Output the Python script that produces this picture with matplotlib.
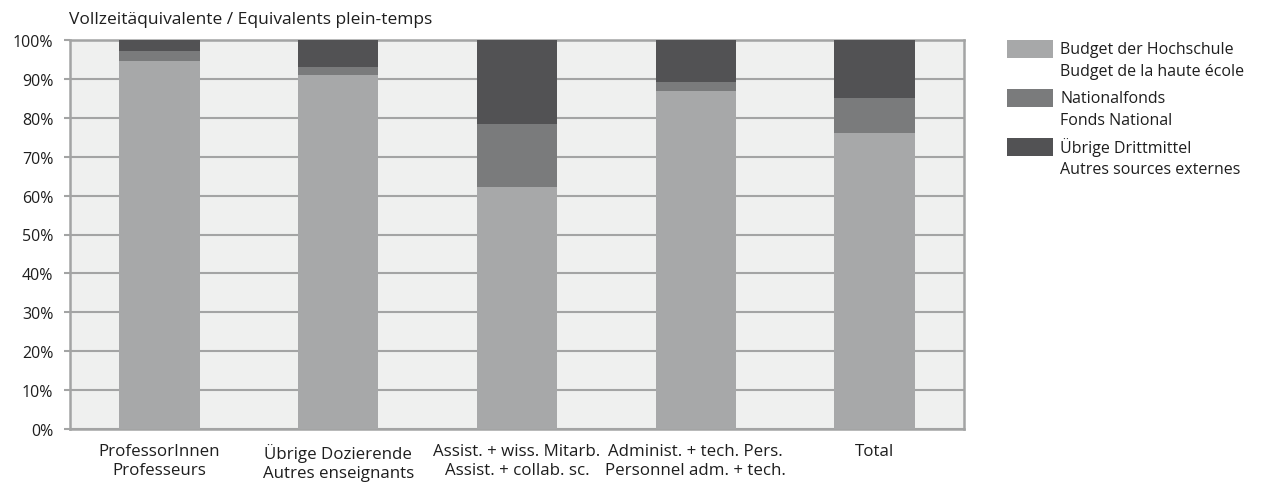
import matplotlib
matplotlib.use("Agg")
import matplotlib.pyplot as plt
from matplotlib.patches import Rectangle
import numpy as np

plt.rcParams['font.family'] = ['Open Sans', 'DejaVu Sans']

categories = ["ProfessorInnen\nProfesseurs",
              "Übrige Dozierende\nAutres enseignants",
              "Assist. + wiss. Mitarb.\nAssist. + collab. sc.",
              "Administ. + tech. Pers.\nPersonnel adm. + tech.",
              "Total"]
budget = [94.6, 91.0, 62.2, 86.9, 76.1]
nationalfonds = [2.6, 2.1, 16.2, 2.3, 9.0]
uebrige = [2.8, 6.9, 21.6, 10.8, 14.9]
series_labels = ["Budget der Hochschule\nBudget de la haute école",
                 "Nationalfonds\nFonds National",
                 "Übrige Drittmittel\nAutres sources externes"]
yticks = [0, 10, 20, 30, 40, 50, 60, 70, 80, 90, 100]
ytick_labels = [f"{v}%" for v in yticks]
title = "Vollzeitäquivalente / Equivalents plein-temps"

colors = ["#a7a8a9", "#7a7b7c", "#525254"]
grid_c = "#a3a4a4"
txt_c = "#1e1e1e"

fig = plt.figure(figsize=(12.68, 4.85), dpi=100)
ax = fig.add_axes([70/1268, 1-430/485, (964-70)/1268, (430-41)/485])
ax.set_facecolor("#eff0ef")

x = np.arange(len(categories))
bottom = np.zeros(len(categories))
for vals, c in zip([budget, nationalfonds, uebrige], colors):
    ax.bar(x, vals, bottom=bottom, width=0.45, color=c, zorder=3, linewidth=0)
    bottom += np.array(vals)

ax.set_xlim(-0.5, len(categories) - 0.5)
ax.set_ylim(0, 100)
ax.set_yticks(yticks)
ax.set_yticklabels(ytick_labels, fontsize=11.5, color=txt_c)
ax.set_xticks(x)
ax.set_xticklabels(categories, fontsize=12.2, color=txt_c, linespacing=1.25)
ax.tick_params(axis='x', length=0, pad=10)
ax.tick_params(axis='y', length=4, width=1.5, color=grid_c, pad=8)
ax.yaxis.grid(True, color=grid_c, linewidth=1.5, zorder=1)
ax.set_axisbelow(True)
for s in ax.spines.values():
    s.set_color(grid_c)
    s.set_linewidth(1.8)

fig.text(69/1268, 1-20/485, title, fontsize=12.5, color=txt_c, va="center", ha="left")

# legend
for i, (lab, c) in enumerate(zip(series_labels, colors)):
    yc = 50 + i * 49
    fig.patches.append(Rectangle((1007/1268, 1-(yc+9)/485), 46/1268, 18/485,
                                 transform=fig.transFigure, color=c, linewidth=0))
    l1, l2 = lab.split("\n")
    fig.text(1060/1268, 1-yc/485, l1, fontsize=11.5, color=txt_c, va="center", ha="left")
    fig.text(1060/1268, 1-(yc+22)/485, l2, fontsize=11.5, color=txt_c, va="center", ha="left")

fig.savefig("out.png", dpi=100)
